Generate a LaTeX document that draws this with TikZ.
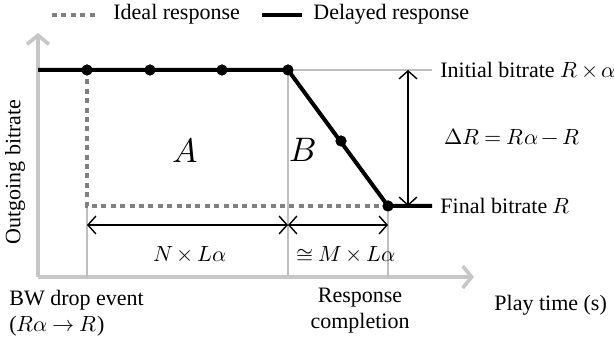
\documentclass[tikz,border=0pt]{standalone}
\usepackage{fontspec}
\usepackage{unicode-math}
\setmainfont{Liberation Serif}
\setmathfont{Latin Modern Math}
\usetikzlibrary{arrows.meta,positioning}
\tikzset{dot/.style={circle,fill=black,draw=none,minimum size=5.5pt,inner sep=0pt},
         delayed/.style={line width=2pt,black},
         ideal/.style={line width=2.4pt,black!50,dash pattern=on 2.5pt off 2.2pt},
         guide/.style={line width=0.8pt,black!25},
         axis/.style={line width=1.8pt,black!22,-{Straight Barb[length=4.5pt,width=11pt]}},
         span/.style={line width=0.7pt,{Straight Barb[length=4pt,width=9pt]}-{Straight Barb[length=4pt,width=9pt]}},
         txt/.style={inner sep=0pt,anchor=west},
         region/.style={inner sep=0pt,font=\fontsize{17}{19}\selectfont},
}
% tighter operator spacing in the labels
\medmuskip=3mu plus 1mu minus 2mu
\thickmuskip=4mu plus 2mu

\begin{document}
\begin{tikzpicture}[x=0.5pt,y=-0.5pt,font=\fontsize{11}{13}\selectfont]
\useasboundingbox (0,0) rectangle (614,341);
% axes
\coordinate (orig) at (38,277);
\coordinate (ytip) at (38,33);
\coordinate (xtip) at (474,277);
\draw[axis] (orig) -- (ytip);
\draw[axis] (orig) -- (xtip);
% sample points of the delayed response
\coordinate (start) at (38,70);
\coordinate (drop) at (87,206);
\coordinate (stop) at (432,206);
\node[dot] (p1) at (87,70) {};
\node[dot] (p2) at (150,70) {};
\node[dot] (p3) at (222,70) {};
\node[dot] (p4) at (288,70) {};
\node[dot] (p5) at (341,141) {};
\node[dot] (p6) at (388,206) {};
% guide lines
\coordinate (top) at (432,70);
\draw[guide] (p4.center) -- (top);
\draw[guide] (p4.center) -- (p4 |- orig);
\draw[guide] (drop) -- (drop |- orig);
\draw[guide] (p6.center) -- (p6 |- orig);
% responses
\draw[ideal] (p1.center) -- (drop) -- (p6.center);
\draw[delayed] (start) -- (p4.center) -- (p6.center) -- (stop);
\foreach \p in {p1,p2,p3,p4,p5,p6} \node[dot] at (\p) {};
% spans
\coordinate (dtop) at (408,70);
\coordinate (dbot) at (408,206);
\draw[span] (dtop) -- (dbot);
\coordinate (s1) at (87,225);
\coordinate (s2) at (288,225);
\coordinate (s3) at (388,225);
\draw[span] (s1) -- (s2);
\draw[span] (s2) -- (s3);
\node[inner sep=0pt] (nl) at (190,254) {$N\times L\alpha$};
\node[txt] (ml) at (296,254) {$\cong M\times L\alpha$};
\node[region] (A) at (185,150) {$A$};
\node[region] (B) at (303,150) {$B$};
% right labels
\node[txt] (init) at (440,70) {Initial bitrate $R\times\alpha$};
\node[txt] (delta) at (444,137) {$\Delta R = R\alpha - R$};
\node[txt] (final) at (440,206) {Final bitrate $R$};
\node[rotate=90,inner sep=0pt] (ylab) at (15,172) {Outgoing bitrate};
% time axis labels
\node[txt] (bw) at (9,300) {BW drop event};
\node[txt] (bwr) at (9,326) {($R\alpha\rightarrow R$)};
\node[align=center,inner sep=0pt] (done) at (360,311) {Response\\completion};
\node[txt] (play) at (494,305) {Play time (s)};
% legend
\coordinate (l1) at (52,15);
\coordinate (l2) at (97,15);
\draw[ideal] (l1) -- (l2);
\node[txt] (lideal) at (113,14) {Ideal response};
\coordinate (l3) at (262,15);
\coordinate (l4) at (302,15);
\draw[delayed] (l3) -- (l4);
\node[txt] (ldelay) at (313,14) {Delayed response};
\end{tikzpicture}
\end{document}
